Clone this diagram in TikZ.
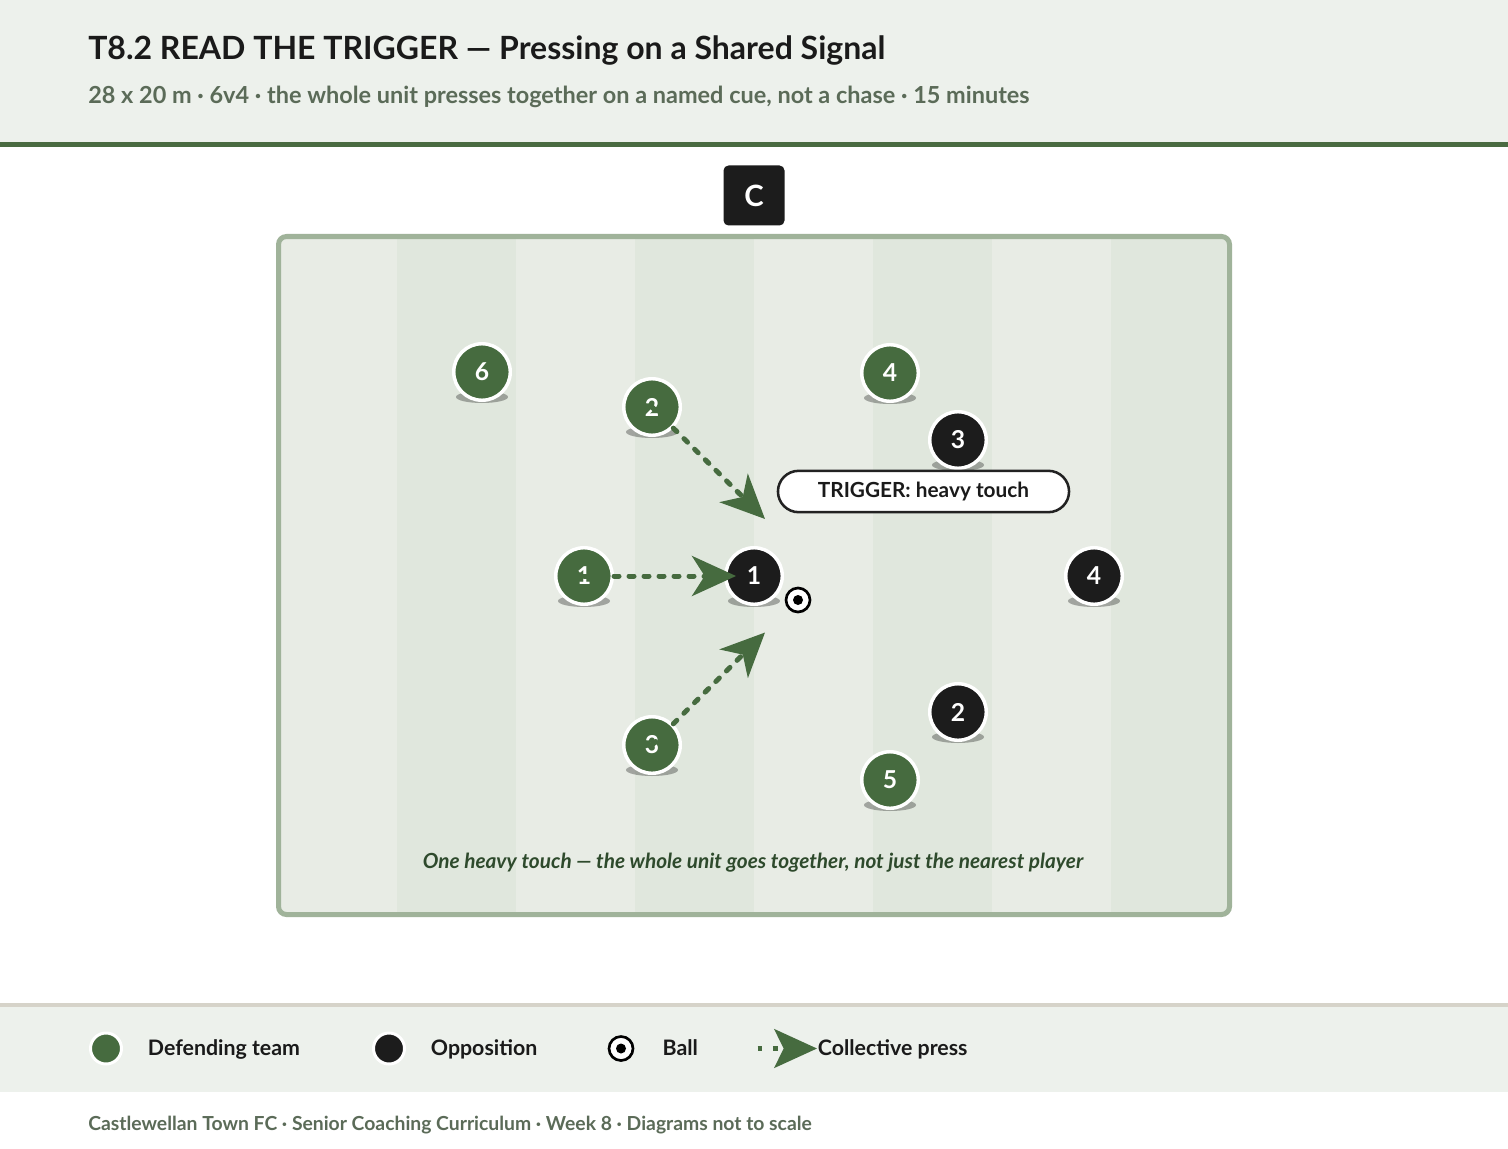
\documentclass[tikz,border=0pt]{standalone}
\usepackage{fontspec}
\setmainfont{Lato}
\usetikzlibrary{positioning}
\usetikzlibrary{arrows.meta}
\usetikzlibrary{shapes.misc}
\usetikzlibrary{shapes.geometric}
\definecolor{headbg}{HTML}{EDF1EC}
\definecolor{bargreen}{HTML}{4A6B41}
\definecolor{defgreen}{HTML}{466B3F}
\definecolor{oppblack}{HTML}{1C1C1C}
\definecolor{inkblack}{HTML}{1A1A1A}
\definecolor{subgrey}{HTML}{5B6B58}
\definecolor{stripelight}{HTML}{E8ECE5}
\definecolor{stripedark}{HTML}{E0E7DD}
\definecolor{pitchedge}{HTML}{A0B39A}
\definecolor{notegreen}{HTML}{2E4A2C}
\definecolor{rulegrey}{HTML}{D6D3C9}
\definecolor{tagdark}{HTML}{222222}
\tikzset{
title_text/.style={anchor=base west, inner sep=0pt, text=inkblack, font=\bfseries\fontsize{24}{28}\selectfont},
sub_text/.style={anchor=base west, inner sep=0pt, text=subgrey, font=\bfseries\fontsize{17.6}{21}\selectfont},
coach_box/.style={rectangle, rounded corners=3.75pt, fill=oppblack, text=white, minimum width=45.75pt, minimum height=45pt, font=\bfseries\fontsize{22}{24}\selectfont},
pitch_edge/.style={draw=pitchedge, line width=3.75pt, rounded corners=6pt},
defender/.style={circle, draw=white, line width=2.6pt, fill=defgreen, text=white, minimum size=42.4pt, inner sep=0pt, font=\bfseries\fontsize{18.5}{20}\selectfont},
opponent/.style={defender, fill=oppblack},
player_shadow/.style={ellipse, fill=black, opacity=0.3, minimum width=39pt, minimum height=9pt, inner sep=0pt},
ball/.style={circle, draw=black, line width=2pt, fill=white, minimum size=18pt, inner sep=0pt, path picture={\fill[black] (path picture bounding box.center) circle (3.75pt);}},
press/.style={draw=defgreen, line width=3.75pt, line cap=round, dash pattern=on 3.75pt off 7.5pt, -{Stealth[length=33pt, width=30pt, inset=9.5pt]}},
trigger_tag/.style={rounded rectangle, draw=tagdark, line width=1.9pt, fill=white, minimum width=225pt, minimum height=31pt, text=inkblack, font=\bfseries\fontsize{15.6}{18}\selectfont},
note_text/.style={anchor=base, inner sep=0pt, text=notegreen, font=\bfseries\itshape\fontsize{15.6}{18}\selectfont},
legend_text/.style={inner sep=0pt, yshift=-1.5pt, text=inkblack, text height=1.42ex, text depth=0pt, font=\bfseries\fontsize{16}{19}\selectfont},
legend_def/.style={defender, minimum size=23.25pt, line width=2.25pt},
legend_opp/.style={legend_def, fill=oppblack},
legend_press/.style={draw=defgreen, line width=3.5pt, dash pattern=on 3.5pt off 8pt, -{Stealth[length=32pt, width=29pt, inset=7pt]}},
foot_text/.style={anchor=base west, inner sep=0pt, text=subgrey, font=\bfseries\fontsize{14.5}{17}\selectfont}
}

\begin{document}
\begin{tikzpicture}[x=0.75pt, y=-0.75pt]
    \useasboundingbox (0,0) rectangle (1508,1148);
    \fill[white] (0,0) rectangle (1508,1148);
    \fill[headbg] (0,0) rectangle (1508,142);
    \fill[bargreen] (0,142) rectangle (1508,147.5);
    \node[title_text] (title) at (88,60) {T8.2 READ THE TRIGGER — Pressing on a Shared Signal};
    \node[sub_text] (subtitle) at (88,103.5) {28 x 20 m · 6v4 · the whole unit presses together on a named cue, not a chase · 15 minutes};

    \node[coach_box] (coach) at (754,195.5) {C};

    \fill[stripelight, rounded corners=6pt] (278.5,236.5) rectangle (1229.5,914.5);
    \begin{scope}
        \clip[rounded corners=6pt] (278.5,236.5) rectangle (1229.5,914.5);
        \fill[stripedark] (397.4,236.5) rectangle (516.3,914.5);
        \fill[stripedark] (635.1,236.5) rectangle (754,914.5);
        \fill[stripedark] (872.9,236.5) rectangle (991.8,914.5);
        \fill[stripedark] (1110.6,236.5) rectangle (1229.5,914.5);
    \end{scope}
    \draw[pitch_edge] (278.5,236.5) rectangle (1229.5,914.5);

    \node[player_shadow] (d6_shadow) at (482,397) {};
    \node[player_shadow] (d2_shadow) at (652,432) {};
    \node[player_shadow] (d4_shadow) at (890,398) {};
    \node[player_shadow] (d1_shadow) at (584,601) {};
    \node[player_shadow] (d3_shadow) at (652,770) {};
    \node[player_shadow] (d5_shadow) at (890,805) {};
    \node[player_shadow] (o3_shadow) at (958,465) {};
    \node[player_shadow] (o1_shadow) at (754,601) {};
    \node[player_shadow] (o4_shadow) at (1094,601) {};
    \node[player_shadow] (o2_shadow) at (958,737) {};

    \node[defender] (d6) at (482,372) {6};
    \node[defender] (d2) at (652,407) {2};
    \node[defender] (d4) at (890,373) {4};
    \node[defender] (d1) at (584,576) {1};
    \node[defender] (d3) at (652,745) {3};
    \node[defender] (d5) at (890,780) {5};
    \node[opponent] (o3) at (958,440) {3};
    \node[opponent] (o1) at (754,576) {1};
    \node[opponent] (o4) at (1094,576) {4};
    \node[opponent] (o2) at (958,712) {2};

    \coordinate (tip_d2) at (765,519);
    \coordinate (tip_d1) at (736,576);
    \coordinate (tip_d3) at (765,632.5);
    \draw[press] (d2.center) -- (tip_d2);
    \draw[press] (d1.center) -- (tip_d1);
    \draw[press] (d3.center) -- (tip_d3);

    \node[ball] (ball) at (798,600) {};
    \node[trigger_tag] (trigger) at (923.5,491.5) {TRIGGER: heavy touch};
    \node[note_text] (pitch_note) at (753,868) {One heavy touch — the whole unit goes together, not just the nearest player};

    \fill[headbg] (0,1005) rectangle (1508,1092);
    \fill[rulegrey] (0,1003) rectangle (1508,1007);
    \node[legend_def] (leg_def) at (106,1048.5) {};
    \node[legend_text, right=18.5pt of leg_def] (leg_def_text) {Defending team};
    \node[legend_opp] (leg_opp) at (389,1048.5) {};
    \node[legend_text, right=18.5pt of leg_opp] (leg_opp_text) {Opposition};
    \node[ball] (leg_ball) at (621,1048.5) {};
    \node[legend_text, right=21pt of leg_ball] (leg_ball_text) {Ball};
    \coordinate (leg_press_start) at (757.5,1048.5);
    \coordinate (leg_press_tip) at (817,1048.5);
    \draw[legend_press] (leg_press_start) -- (leg_press_tip);
    \node[legend_text, right=0.5pt of leg_press_tip] (leg_press_text) {Collective press};

    \node[foot_text] (credits) at (88,1130) {Castlewellan Town FC · Senior Coaching Curriculum · Week 8 · Diagrams not to scale};
\end{tikzpicture}
\end{document}
